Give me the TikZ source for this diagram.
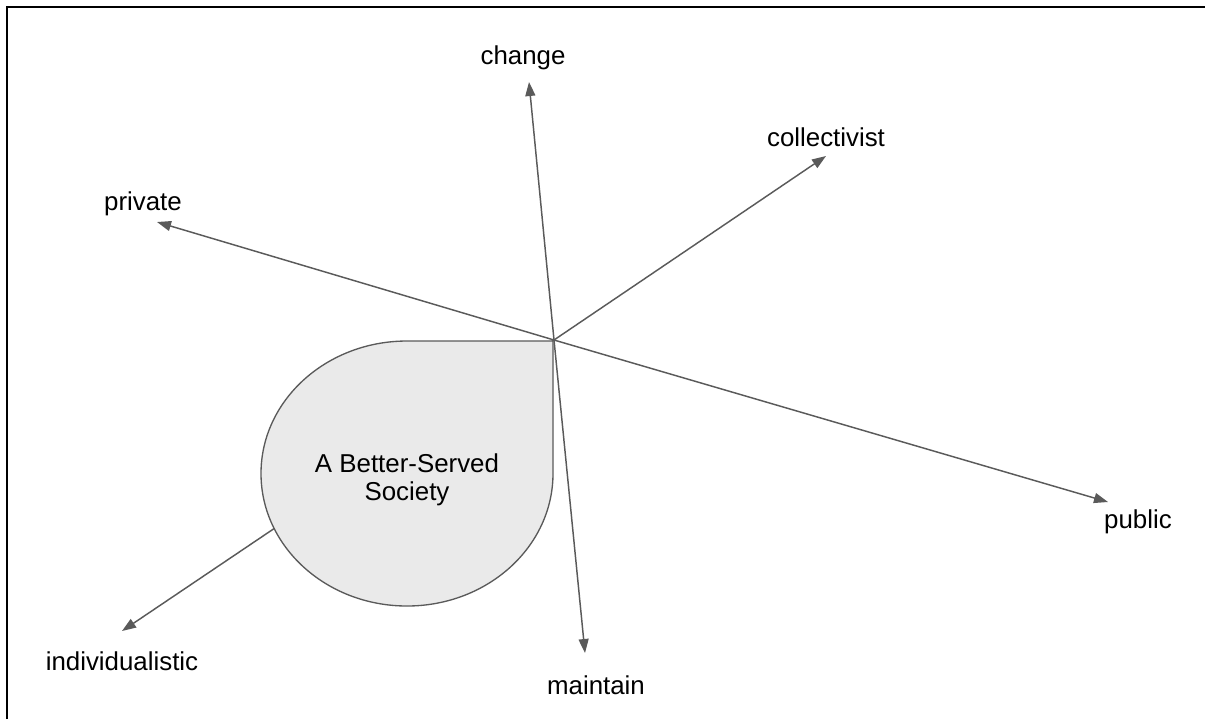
\documentclass[tikz,border=0pt]{standalone}
\usepackage{fontspec}
\setmainfont{Liberation Sans}
\usetikzlibrary{arrows.meta}
\definecolor{axis}{HTML}{5A5A5A}
\definecolor{dropfill}{HTML}{EAEAEA}
\begin{document}
\begin{tikzpicture}[x=0.75pt,y=0.75pt,
  axisline/.style={draw=axis, line width=1.1pt, -{Triangle[length=10.5pt,width=7.5pt]}},
  lbl/.style={font=\fontsize{19.4}{21}\selectfont, inner sep=0pt},
  ]
\useasboundingbox (0,0) rectangle (1205,-719);
% frame edges
\draw[line width=2.2pt] (7,-719) -- (7,-7) -- (1205,-7);

% origin and arrow ends
\coordinate (O) at (554,-340);
\coordinate (tChange) at (529,-82);
\coordinate (tMaintain) at (585,-653);
\coordinate (tPrivate) at (157,-222);
\coordinate (tPublic) at (1108,-502);
\coordinate (tColl) at (826,-156);
\coordinate (tIndiv) at (122,-631);

% axes
\draw[axisline] (O) -- (tChange);
\draw[axisline] (O) -- (tMaintain);
\draw[axisline] (O) -- (tPrivate);
\draw[axisline] (O) -- (tPublic);
\draw[axisline] (O) -- (tColl);
\draw[axisline] (O) -- (tIndiv);

% teardrop region
\filldraw[fill=dropfill, draw=axis, line width=1pt]
  (553,-341) -- (407,-341)
  arc[start angle=90, end angle=270, x radius=146, y radius=132.5]
  arc[start angle=270, end angle=360, x radius=146, y radius=132.5]
  -- cycle;
\node[lbl, align=center] (soc) at (407,-480) {A Better-Served\\Society};

% axis labels
\node[lbl] (change) at (523,-58) {change};
\node[lbl] (collectivist) at (826,-137) {collectivist};
\node[lbl] (private) at (143,-204) {private};
\node[lbl] (public) at (1138,-522) {public};
\node[lbl] (maintain) at (596,-685) {maintain};
\node[lbl] (individualistic) at (122,-661) {individualistic};
\end{tikzpicture}
\end{document}
